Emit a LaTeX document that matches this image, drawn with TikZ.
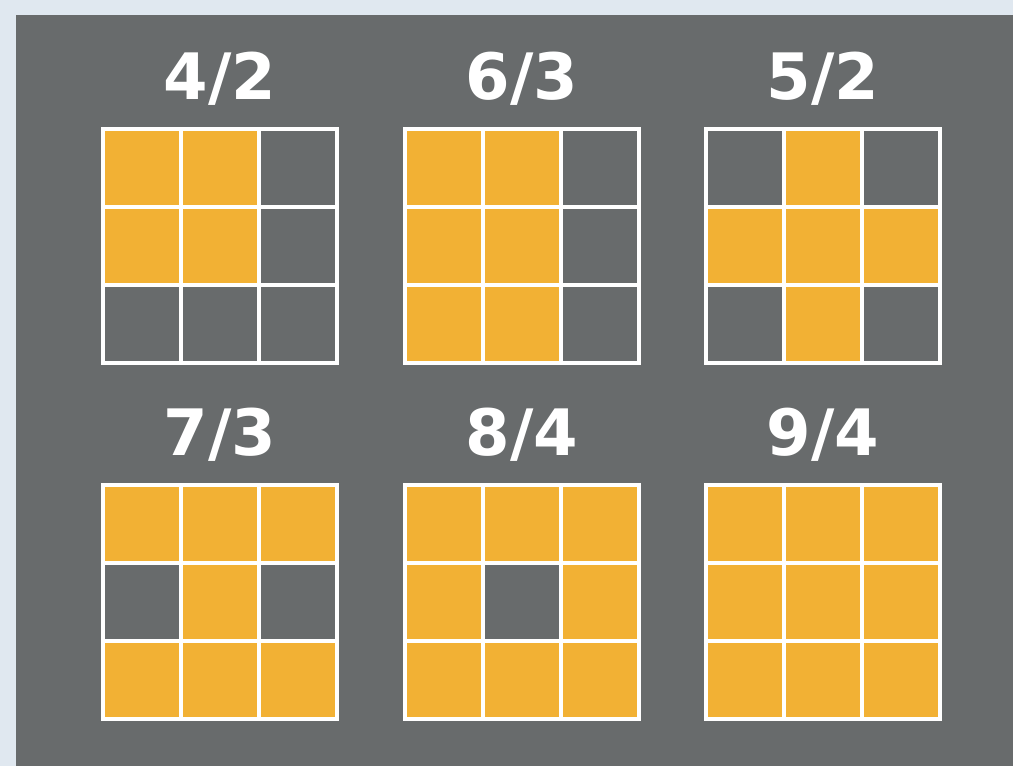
\documentclass[tikz,border=0pt]{standalone}
\usepackage{fontspec}
\newfontfamily\ratiofont{DejaVu Sans}
\definecolor{paper}{RGB}{224,232,240}
\definecolor{board}{RGB}{104,107,108}
\definecolor{tile}{RGB}{242,177,52}
\tikzset{
  gridline/.style={white, line width=1.6pt, line cap=rect},
  tilecell/.style={fill=tile},
  ratio/.style={text=white, inner sep=0pt, font=\ratiofont\bfseries\fontsize{32}{32}\selectfont},
}
\begin{document}
\begin{tikzpicture}[x=0.5pt,y=-0.5pt]
% paper edge and board
\fill[paper] (0,0) rectangle (1013,766);
\fill[board] (16,15) rectangle (1013,766);

% one grid: name / left / top / label / filled cells (column-row)
\foreach \n/\x/\y/\txt/\cells in {
  a/103/129/{4/2}/{0/0,1/0,0/1,1/1},
  b/405/129/{6/3}/{0/0,1/0,0/1,1/1,0/2,1/2},
  c/706/129/{5/2}/{1/0,0/1,1/1,2/1,1/2},
  d/103/485/{7/3}/{0/0,1/0,2/0,1/1,0/2,1/2,2/2},
  e/405/485/{8/4}/{0/0,1/0,2/0,0/1,2/1,0/2,1/2,2/2},
  f/706/485/{9/4}/{0/0,1/0,2/0,0/1,1/1,2/1,0/2,1/2,2/2}} {
  \foreach \c/\r in \cells
    \fill[tilecell] (\x+78*\c,\y+78*\r) rectangle ++(78,78);
  \foreach \k in {0,...,3} {
    \draw[gridline] (\x+78*\k,\y) -- (\x+78*\k,\y+234);
    \draw[gridline] (\x,\y+78*\k) -- (\x+234,\y+78*\k);
  }
  \node[ratio] (label\n) at (\x+117,\y-50) {\txt};
}
\end{tikzpicture}
\end{document}
